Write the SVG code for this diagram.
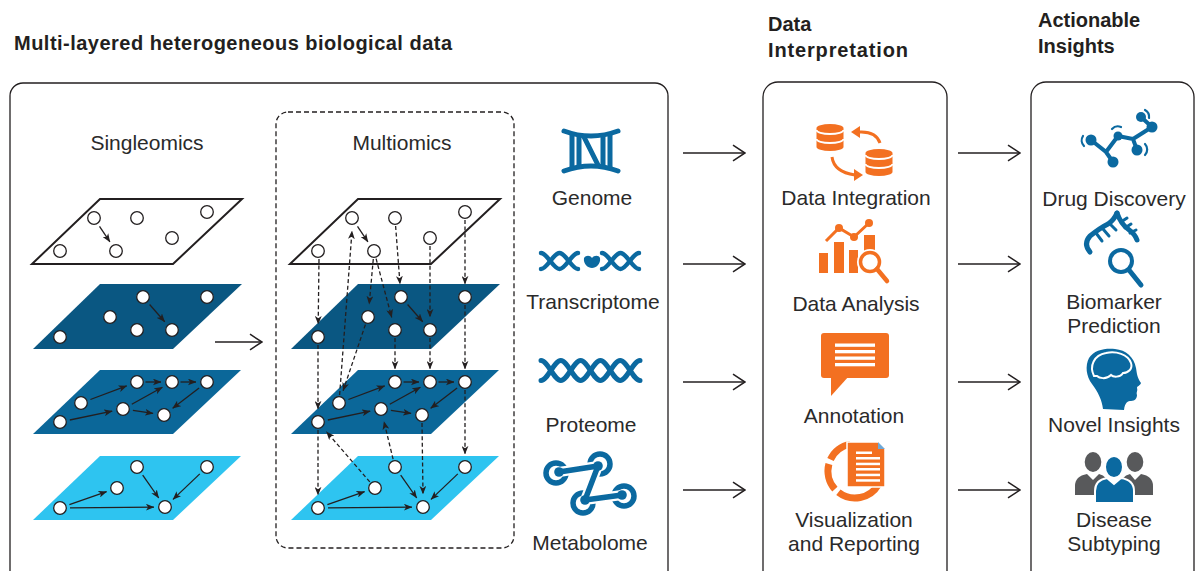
<svg xmlns="http://www.w3.org/2000/svg" xmlns:xlink="http://www.w3.org/1999/xlink" width="1197" height="571" viewBox="0 0 1197 571">
  <style>
    .hd { font-family: "Liberation Sans", Arial, sans-serif; font-weight: bold; font-size: 20px; fill: #231f20; }
    .lbl { font-family: "Liberation Sans", Arial, sans-serif; font-size: 21px; fill: #2a2a2a; text-anchor: middle; }
    .bx { fill: none; stroke: #231f20; stroke-width: 1.3; }
    .ln { fill: none; stroke: #231f20; stroke-width: 1.3; marker-end: url(#ah); }
    .da { stroke-dasharray: 4 2.6; }
    .nd { fill: #fff; stroke: #231f20; stroke-width: 1.3; }
    .big { fill: none; stroke: #231f20; stroke-width: 1.5; marker-end: url(#oa); }
    .bl { fill: #0b69a0; }
    .bls { fill: none; stroke: #0b69a0; stroke-linecap: round; }
    .or { fill: #f37021; }
    .ors { fill: none; stroke: #f37021; }
    .wh { fill: #fff; }
  </style>
  <defs>
    <marker id="ah" viewBox="0 0 10 8" refX="9.5" refY="4" markerWidth="8.5" markerHeight="7" markerUnits="userSpaceOnUse" orient="auto">
      <path d="M0,0 L10,4 L0,8 L2.6,4 Z" fill="#231f20"/>
    </marker>
    <marker id="oa" viewBox="0 0 14 18" refX="13" refY="9" markerWidth="14" markerHeight="18" markerUnits="userSpaceOnUse" orient="auto">
      <path d="M1,1.2 L13,9 L1,16.8" fill="none" stroke="#231f20" stroke-width="1.5"/>
    </marker>

    <!-- four stacked network layers, reused for both panels -->
    <g id="stack">
      <polygon points="100,199 242,199 173,264 32,264" fill="#fff" stroke="#231f20" stroke-width="2"/>
      <polygon points="100,284 242,284 173,349 33,349" fill="#0a5782"/>
      <polygon points="100,370 241,370 173,434 33,434" fill="#0b6799"/>
      <polygon points="100,456 241,456 173,520 33,520" fill="#2ec4f0"/>

      <!-- intra-layer links -->
      <path class="ln" d="M99.5,226.3 L109.9,241.9"/>
      <path class="ln" d="M149.6,304.5 L164.7,321.7"/>
      <path class="ln" d="M90.4,399.5 L126.7,385.9"/>
      <path class="ln" d="M145.5,382 L161,382"/>
      <path class="ln" d="M180.5,382 L196,382"/>
      <path class="ln" d="M69.8,420 L112.2,411.2"/>
      <path class="ln" d="M131.8,404.2 L162.4,387.3"/>
      <path class="ln" d="M132.9,410.4 L153.1,413.4"/>
      <path class="ln" d="M199.1,388.1 L172.7,408.3"/>
      <path class="ln" d="M69.4,504.7 L106.6,491.6"/>
      <path class="ln" d="M70,507.9 L154,507.1"/>
      <path class="ln" d="M142.7,475.2 L158.7,498"/>
      <path class="ln" d="M199.8,473.9 L173,499.4"/>

      <!-- nodes -->
      <circle class="nd" cx="94" cy="218" r="6.3"/>
      <circle class="nd" cx="137" cy="218" r="6.3"/>
      <circle class="nd" cx="207" cy="212" r="6.3"/>
      <circle class="nd" cx="172" cy="238" r="6.3"/>
      <circle class="nd" cx="60" cy="251" r="6.3"/>
      <circle class="nd" cx="116" cy="251" r="6.3"/>

      <circle class="nd" cx="143" cy="297" r="6.3"/>
      <circle class="nd" cx="207" cy="297" r="6.3"/>
      <circle class="nd" cx="110" cy="317" r="6.3"/>
      <circle class="nd" cx="137" cy="330" r="6.3"/>
      <circle class="nd" cx="172" cy="330" r="6.3"/>
      <circle class="nd" cx="60" cy="337" r="6.3"/>

      <circle class="nd" cx="137" cy="382" r="6.3"/>
      <circle class="nd" cx="172" cy="382" r="6.3"/>
      <circle class="nd" cx="207" cy="382" r="6.3"/>
      <circle class="nd" cx="81" cy="403" r="6.3"/>
      <circle class="nd" cx="123" cy="409" r="6.3"/>
      <circle class="nd" cx="164" cy="415" r="6.3"/>
      <circle class="nd" cx="60" cy="422" r="6.3"/>

      <circle class="nd" cx="137" cy="467" r="6.3"/>
      <circle class="nd" cx="207" cy="467" r="6.3"/>
      <circle class="nd" cx="117" cy="488" r="6.3"/>
      <circle class="nd" cx="60" cy="508" r="6.3"/>
      <circle class="nd" cx="165" cy="507" r="6.3"/>
    </g>
  </defs>

  <rect width="1197" height="571" fill="#fff"/>

  <!-- headings -->
  <text class="hd" x="14" y="50" textLength="438" lengthAdjust="spacing">Multi-layered heterogeneous biological data</text>
  <text class="hd" x="768" y="31">Data</text>
  <text class="hd" x="768" y="57" textLength="140" lengthAdjust="spacing">Interpretation</text>
  <text class="hd" x="1038" y="27">Actionable</text>
  <text class="hd" x="1038" y="53">Insights</text>

  <!-- panel frames -->
  <g id="frames">
    <rect class="bx" x="10" y="83" width="658" height="510" rx="13"/>
    <rect class="bx" x="276" y="112" width="238" height="436" rx="12" stroke-dasharray="5 3"/>
    <rect class="bx" x="763" y="82" width="184" height="510" rx="15"/>
    <rect class="bx" x="1031" y="82" width="163" height="510" rx="15"/>
  </g>

  <!-- single-omics stack -->
  <g id="singleomics">
    <text class="lbl" x="147" y="150">Singleomics</text>
    <use xlink:href="#stack"/>
  </g>

  <!-- multi-omics stack with cross-layer links -->
  <g id="multiomics">
    <text class="lbl" x="402" y="150">Multiomics</text>
    <use xlink:href="#stack" x="258"/>
    <g id="cross-links">
      <path class="ln da" d="M319,259 L318.2,324"/>
      <path class="ln da" d="M373.3,259 L369.2,304.1"/>
      <path class="ln da" d="M376.1,258.7 L391.7,317.4"/>
      <path class="ln da" d="M395.6,226 L400,284"/>
      <path class="ln da" d="M465,220 L465,284"/>
      <path class="ln da" d="M430,246 L430,317"/>
      <path class="ln da" d="M339.6,395 L352,231"/>
      <path class="ln da" d="M365.4,324.6 L343.1,390.7"/>
      <path class="ln da" d="M318,345 L318,409"/>
      <path class="ln da" d="M395,338 L395,369"/>
      <path class="ln da" d="M430,338 L430,369"/>
      <path class="ln da" d="M465,305 L465,369"/>
      <path class="ln da" d="M318,430 L318,495"/>
      <path class="ln da" d="M422,423 L423,494"/>
      <path class="ln da" d="M465,390 L465,454"/>
      <path class="ln da" d="M369.8,481.9 L326.5,431.8"/>
      <path class="ln da" d="M393.1,459.2 L384,421.6"/>
    </g>
  </g>

  <!-- omics layers -->
  <g id="genome">
    <g class="bls" stroke-width="5">
      <path d="M564,131 Q591,141 618,131"/>
      <path d="M564,171 Q591,161 618,171"/>
      <path d="M572,135 V167 M579,136 V166 M584,137 L598,165 M603,136 V166 M610,135 V167"/>
    </g>
    <text class="lbl" x="592" y="205">Genome</text>
  </g>

  <g id="transcriptome">
    <g class="bls" stroke-width="4.5">
      <path d="M541,253 C547.2,253 553.3,269 559.5,269 C565.7,269 571.8,253 578,253"/>
      <path d="M541,269 C547.2,269 553.3,253 559.5,253 C565.7,253 571.8,269 578,269"/>
      <path d="M602,253 C608.2,253 614.3,269 620.5,269 C626.7,269 632.8,253 639,253"/>
      <path d="M602,269 C608.2,269 614.3,253 620.5,253 C626.7,253 632.8,269 639,269"/>
    </g>
    <path class="bl" d="M584,258 C586,255 590,255 592,258 C594,255 599,255 600,258 C601,264 596,268 592,268 C588,268 583,264 584,258 Z"/>
    <text class="lbl" x="593" y="309">Transcriptome</text>
  </g>

  <g id="proteome">
    <g class="bls" stroke-width="5">
      <path d="M541,360.5 C547.6,360.5 554.2,380.5 560.8,380.5 C567.4,380.5 574,360.5 580.6,360.5 C587.2,360.5 593.8,380.5 600.4,380.5 C607,380.5 613.6,360.5 620.2,360.5 C626.8,360.5 633.4,380.5 640,380.5"/>
      <path d="M541,380.5 C547.6,380.5 554.2,360.5 560.8,360.5 C567.4,360.5 574,380.5 580.6,380.5 C587.2,380.5 593.8,360.5 600.4,360.5 C607,360.5 613.6,380.5 620.2,380.5 C626.8,380.5 633.4,360.5 640,360.5"/>
    </g>
    <text class="lbl" x="591" y="432">Proteome</text>
  </g>

  <g id="metabolome">
    <g class="bls" stroke-width="5.5">
      <circle cx="556" cy="473" r="10"/>
      <circle cx="600" cy="464" r="10"/>
      <circle cx="624" cy="496" r="10"/>
      <circle cx="583" cy="503" r="10"/>
    </g>
    <path d="M559,472 L598,466 L585,500 L622,495" fill="none" stroke="#fff" stroke-width="10" stroke-linejoin="round"/>
    <path d="M559,472 L598,466 L585,500 L622,495" fill="none" stroke="#0b69a0" stroke-width="5.5" stroke-linejoin="round" stroke-linecap="round"/>
    <g class="bl">
      <circle cx="559" cy="472" r="4.8"/>
      <circle cx="598" cy="466" r="4.8"/>
      <circle cx="585" cy="500" r="4.8"/>
      <circle cx="622" cy="495" r="4.8"/>
    </g>
    <text class="lbl" x="590" y="550">Metabolome</text>
  </g>

  <!-- interpretation steps -->
  <g id="data-integration">
    <g class="or">
      <path d="M816.5,128 A13.5,4 0 0 1 843.5,128 L843.5,147 A13.5,4 0 0 1 816.5,147 Z"/>
      <path d="M865.5,153 A13.5,4 0 0 1 892.5,153 L892.5,172 A13.5,4 0 0 1 865.5,172 Z"/>
    </g>
    <g fill="none" stroke="#fff" stroke-width="1.8">
      <path d="M816.5,130 A13.5,4 0 0 0 843.5,130"/>
      <path d="M816.5,139 A13.5,4 0 0 0 843.5,139"/>
      <path d="M865.5,155 A13.5,4 0 0 0 892.5,155"/>
      <path d="M865.5,164 A13.5,4 0 0 0 892.5,164"/>
    </g>
    <path class="ors" stroke-width="3" d="M880,143 Q876,131 859,132"/>
    <polygon class="or" points="851,132 860,126 860,138"/>
    <path class="ors" stroke-width="3" d="M832,157 Q834,172 855,175"/>
    <polygon class="or" points="863,175 854,169 854,181"/>
    <text class="lbl" x="856" y="205">Data Integration</text>
  </g>

  <g id="data-analysis">
    <g class="or">
      <rect x="819" y="253" width="9" height="20"/>
      <rect x="834" y="242" width="10" height="31"/>
      <rect x="849" y="250" width="9" height="23"/>
      <rect x="864" y="235" width="11" height="16"/>
    </g>
    <polyline class="ors" stroke-width="3" points="826,241 839,228 854,237 869,223"/>
    <g class="or">
      <circle cx="839" cy="228" r="4"/>
      <circle cx="854" cy="237" r="4"/>
      <circle cx="869" cy="223" r="4"/>
    </g>
    <circle cx="870" cy="262" r="13" class="wh"/>
    <circle cx="870" cy="262" r="9.5" fill="#fff" stroke="#f37021" stroke-width="3.5"/>
    <line x1="877" y1="269" x2="887" y2="281" stroke="#f37021" stroke-width="4.5" stroke-linecap="round"/>
    <text class="lbl" x="856" y="311">Data Analysis</text>
  </g>

  <g id="annotation">
    <rect class="or" x="821" y="333" width="68" height="45" rx="3"/>
    <polygon class="or" points="831,376 831,396 849,376"/>
    <g class="wh">
      <rect x="835" y="343.5" width="40" height="3.3"/>
      <rect x="835" y="350" width="40" height="3.3"/>
      <rect x="835" y="356.5" width="40" height="3.3"/>
      <rect x="835" y="363" width="40" height="3.3"/>
    </g>
    <text class="lbl" x="854" y="423">Annotation</text>
  </g>

  <g id="visualization">
    <g class="ors" stroke-width="7">
      <path d="M878.4,484.5 A27,27 0 0 1 838.4,492.3"/>
      <path d="M834.9,489.1 A27,27 0 0 1 828.9,464"/>
      <path d="M830.5,459.6 A27,27 0 0 1 850.3,444.4"/>
    </g>
    <path d="M847,442 L878,442 L885,449 L885,487 L847,487 Z" fill="#f37021" stroke="#fff" stroke-width="1.5"/>
    <polygon points="878,442 885,449 878,449" fill="#6fa8d6"/>
    <g class="wh">
      <rect x="856" y="451.5" width="16" height="2.5"/>
      <rect x="856" y="457" width="24" height="2.5"/>
      <rect x="856" y="462.7" width="24" height="2.5"/>
      <rect x="856" y="468" width="24" height="2.5"/>
      <rect x="856" y="473.7" width="24" height="2.5"/>
      <rect x="856" y="479.2" width="24" height="2.5"/>
    </g>
    <text class="lbl" x="854" y="527">Visualization</text>
    <text class="lbl" x="854" y="551">and Reporting</text>
  </g>

  <!-- outcomes -->
  <g id="drug-discovery">
    <path class="bls" stroke-width="4" d="M1091,140 L1106,152 L1113,162 M1106,152 L1118,136 L1133,139 L1137,150 M1133,139 L1152,127 M1141,117 L1152,127"/>
    <g class="bl">
      <circle cx="1091" cy="140" r="5.5"/>
      <circle cx="1113" cy="162" r="5.5"/>
      <circle cx="1118" cy="136" r="4.5"/>
      <circle cx="1137" cy="150" r="5.5"/>
      <circle cx="1152" cy="127" r="5.5"/>
      <circle cx="1141" cy="117" r="5"/>
    </g>
    <g class="bls" stroke-width="2.2">
      <path d="M1083,136 A8,8 0 0 0 1084,146"/>
      <path d="M1112,129 A8,8 0 0 1 1121,127"/>
      <path d="M1145,144 A8,8 0 0 1 1145,155"/>
      <path d="M1145,110 A8,8 0 0 1 1149,118"/>
    </g>
    <text class="lbl" x="1114" y="206">Drug Discovery</text>
  </g>

  <g id="biomarker">
    <g class="bls" stroke-width="5">
      <path d="M1090,252 Q1083,244 1090,236 Q1100,228 1108,224 Q1114,220 1117,213"/>
      <path d="M1117,213 Q1121,224 1128,229 Q1135,234 1137,240"/>
    </g>
    <g class="bls" stroke-width="3">
      <path d="M1096,233 L1102,241 M1103,229 L1109,236 M1110,224 L1116,230 M1121,222 L1127,218 M1125,228 L1131,224 M1130,233 L1136,230"/>
    </g>
    <circle cx="1121" cy="261" r="15" class="wh"/>
    <circle cx="1121" cy="261" r="11" fill="#fff" stroke="#0b69a0" stroke-width="4"/>
    <line x1="1129" y1="270" x2="1141" y2="285" stroke="#0b69a0" stroke-width="5" stroke-linecap="round"/>
    <text class="lbl" x="1114" y="309">Biomarker</text>
    <text class="lbl" x="1114" y="333">Prediction</text>
  </g>

  <g id="novel-insights">
    <path class="bl" d="M1103,409 C1102,400 1098,392 1092,384 C1086,376 1085,366 1089,358 C1094,350 1105,348 1115,349 C1126,350 1134,357 1136,368 C1137,374 1137,377 1141,383 C1140,386 1137,386 1137,388 C1138,391 1136,392 1137,395 C1137,398 1135,401 1131,401 C1128,401 1125,402 1124,410 Z"/>
    <path d="M1094,376 C1089,366 1094,355 1106,353 C1116,351 1128,354 1131,363 C1133,369 1128,373 1123,373 C1120,378 1113,377 1111,375 C1106,380 1099,378 1097,376 Z" fill="none" stroke="#fff" stroke-width="2"/>
    <text class="lbl" x="1114" y="432">Novel Insights</text>
  </g>

  <g id="disease-subtyping">
    <g fill="#58595b">
      <ellipse cx="1093" cy="462" rx="8.3" ry="10"/>
      <path d="M1075,495 V486 Q1075,476 1087,474 L1093,480 L1099,474 Q1108,476 1108,486 V495 Z"/>
      <ellipse cx="1135" cy="462" rx="8.3" ry="10"/>
      <path d="M1121,495 V486 Q1121,476 1130,474 L1135,480 L1141,474 Q1153,476 1153,486 V495 Z"/>
    </g>
    <g class="bl" stroke="#fff" stroke-width="2">
      <path d="M1095,503 V491 Q1095,480 1107,478 L1114,484 L1121,478 Q1134,480 1134,491 V503 Z"/>
      <ellipse cx="1114" cy="467" rx="9" ry="11"/>
    </g>
    <text class="lbl" x="1114" y="527">Disease</text>
    <text class="lbl" x="1114" y="551">Subtyping</text>
  </g>

  <!-- flow arrows -->
  <g id="connectors">
    <line class="big" x1="215" y1="342" x2="262" y2="342"/>
    <line class="big" x1="683" y1="153" x2="745" y2="153"/>
    <line class="big" x1="683" y1="264" x2="745" y2="264"/>
    <line class="big" x1="683" y1="382" x2="745" y2="382"/>
    <line class="big" x1="683" y1="490" x2="745" y2="490"/>
    <line class="big" x1="958" y1="153" x2="1020" y2="153"/>
    <line class="big" x1="958" y1="264" x2="1020" y2="264"/>
    <line class="big" x1="958" y1="382" x2="1020" y2="382"/>
    <line class="big" x1="958" y1="490" x2="1020" y2="490"/>
  </g>
</svg>
